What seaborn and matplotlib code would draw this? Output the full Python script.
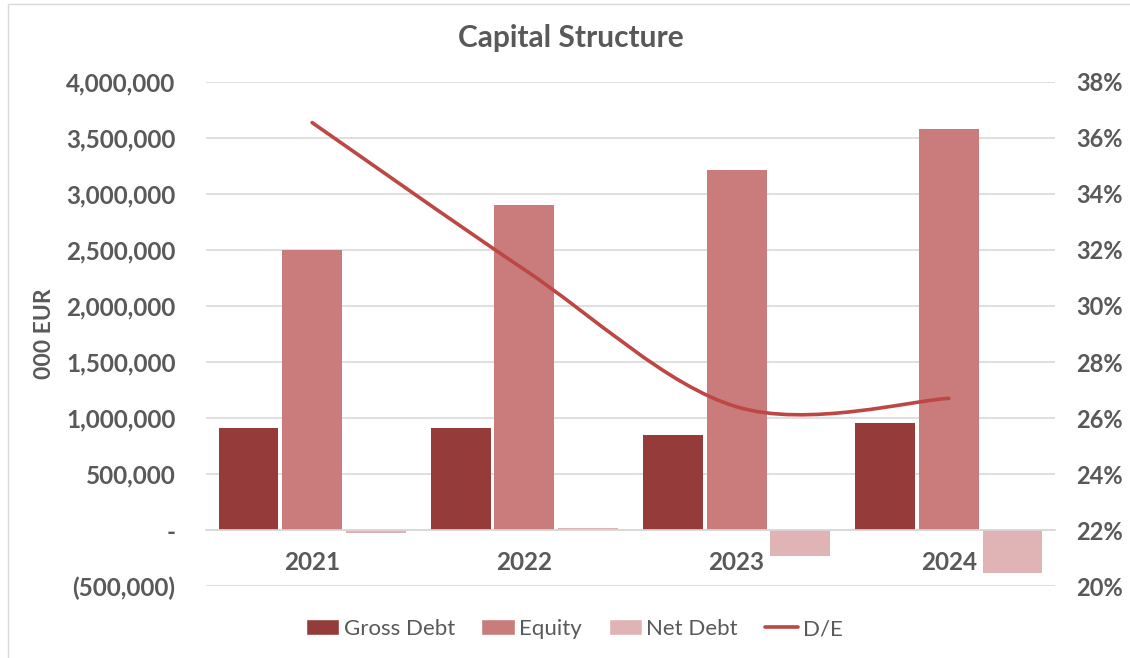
import numpy as np
import pandas as pd
import seaborn as sns
import matplotlib
matplotlib.use("Agg")
import matplotlib.pyplot as plt
from matplotlib.path import Path
from matplotlib.patches import PathPatch, Rectangle, Patch
from matplotlib.lines import Line2D
from matplotlib.ticker import FuncFormatter, MultipleLocator

# ---- data (000 EUR) ----
years = ["2021", "2022", "2023", "2024"]
gross_debt = [910_000, 910_000, 848_000, 955_000]
equity = [2_500_000, 2_900_000, 3_214_000, 3_580_000]
net_debt = [-25_000, 18_000, -230_000, -385_000]
de_ratio = [0.3655, 0.3130, 0.2640, 0.2670]
series_names = ["Gross Debt", "Equity", "Net Debt"]
line_name = "D/E"

c_gross = "#953B39"
c_equity = "#C97C7B"
c_net = "#E0B4B4"
c_line = "#BD4744"
c_text = "#595959"
c_grid = "#D9D9D9"

df = pd.DataFrame({
    "Year": years * 3,
    "Series": [series_names[0]] * 4 + [series_names[1]] * 4 + [series_names[2]] * 4,
    "Value": gross_debt + equity + net_debt,
})

sns.set_theme(style="white")
plt.rcParams["font.family"] = ["Lato", "DejaVu Sans"]

fig = plt.figure(figsize=(11.3, 6.58), dpi=100)
ax = fig.add_axes([0.1823, 0.1094, 0.7513, 0.766])

sns.barplot(data=df, x="Year", y="Value", hue="Series", order=years,
            hue_order=series_names, palette=[c_gross, c_equity, c_net],
            width=0.9, gap=0.06, saturation=1, ax=ax, legend=False,
            errorbar=None, edgecolor="none")

ax.set_xlim(-0.5, 3.5)
ax.set_ylim(-500_000, 4_000_000)
ax.yaxis.set_major_locator(MultipleLocator(500_000))


def money(v, pos):
    if abs(v) < 1:
        return "-"
    if v < 0:
        return f"({abs(v):,.0f})"
    return f"{v:,.0f}"


ax.yaxis.set_major_formatter(FuncFormatter(money))
ax.grid(axis="y", color=c_grid, linewidth=1.2)
ax.set_axisbelow(True)
for s in ["top", "right", "left"]:
    ax.spines[s].set_visible(False)
ax.spines["bottom"].set_position(("data", 0))
ax.spines["bottom"].set_color(c_grid)
ax.spines["bottom"].set_linewidth(1.2)
ax.tick_params(axis="y", length=0, pad=22, labelsize=17.5, labelcolor=c_text)
ax.tick_params(axis="x", length=0, pad=15, labelsize=17.5, labelcolor=c_text)
for lbl in ax.get_yticklabels() + ax.get_xticklabels():
    lbl.set_fontweight("bold")
ax.set_xlabel("")
ax.set_ylabel("000 EUR", fontsize=16.5, fontweight="bold", color=c_text, labelpad=8)

# ---- D/E ratio on secondary axis, smoothed curve ----
ax2 = ax.twinx()
ax2.set_ylim(0.20, 0.38)
ax2.yaxis.set_major_locator(MultipleLocator(0.02))
ax2.yaxis.set_major_formatter(FuncFormatter(lambda v, p: f"{v*100:.0f}%"))
for s in ["top", "right", "left", "bottom"]:
    ax2.spines[s].set_visible(False)
ax2.tick_params(axis="y", length=0, pad=15, labelsize=17, labelcolor=c_text)
for lbl in ax2.get_yticklabels():
    lbl.set_fontweight("bold")
ax2.grid(False)

pts = np.column_stack([np.arange(len(years), dtype=float), de_ratio])
verts = [tuple(pts[0])]
codes = [Path.MOVETO]
n = len(pts)
for i in range(n - 1):
    p_prev = pts[max(i - 1, 0)]
    p0 = pts[i]
    p1 = pts[i + 1]
    p_next = pts[min(i + 2, n - 1)]
    c1 = p0 + (p1 - p_prev) / 6.0
    c2 = p1 - (p_next - p0) / 6.0
    verts += [tuple(c1), tuple(c2), tuple(p1)]
    codes += [Path.CURVE4] * 3
ax2.add_patch(PathPatch(Path(verts, codes), fill=False, edgecolor=c_line,
                        linewidth=2.6, capstyle="round", zorder=5))

# ---- title, legend, frame ----
fig.text(0.505, 0.943, "Capital Structure", ha="center", va="center",
         fontsize=21.5, fontweight="bold", color=c_text)

handles = [Patch(facecolor=c_gross), Patch(facecolor=c_equity),
           Patch(facecolor=c_net), Line2D([0], [0], color=c_line, linewidth=2.6)]
fig.legend(handles, series_names + [line_name], loc="center",
           bbox_to_anchor=(0.508, 0.044), ncol=4, frameon=False, fontsize=16,
           labelcolor=c_text, handlelength=1.5, handleheight=0.75,
           handletextpad=0.2, columnspacing=1.2)

fig.patches.append(Rectangle((8 / 1130, -0.05), 1.2, 1 - 4 / 658 + 0.05,
                             transform=fig.transFigure, fill=False,
                             edgecolor=c_grid, linewidth=1.0))

fig.savefig("out.png", dpi=100)
